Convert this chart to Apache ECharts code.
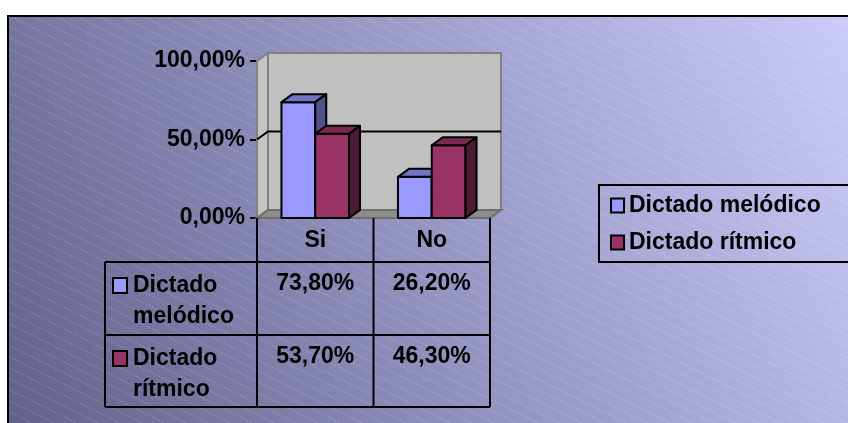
<!DOCTYPE html>
<html><head><meta charset="utf-8">
<script src="https://cdn.jsdelivr.net/npm/echarts@6/dist/echarts.min.js"></script>
<style>html,body{margin:0;padding:0;background:#fff}#c{width:848px;height:423px}</style>
</head><body><div id="c"></div>
<script>
const categories = ['Si', 'No'];
const seriesNames = ['Dictado melódico', 'Dictado rítmico'];
const melodico = [0.738, 0.262];
const ritmico = [0.537, 0.463];
const yTicks = [0, 0.5, 1];
const rowLabels = [['Dictado', 'melódico'], ['Dictado', 'rítmico']];

const FONT = "'Liberation Sans', Arial, sans-serif";
const FS = 23;
const fmt = v => (v * 100).toFixed(2).replace('.', ',') + '%';
const DX = 11, DY = -8;
const G = {left: 257, top: 61, right: 490, bottom: 218};
const COLORS = [
  {front: '#9999ff', top: '#7373c4', side: '#50508a'},
  {front: '#993366', top: '#7a2950', side: '#4d1a33'}
];

const chart = echarts.init(document.getElementById('c'), null, {renderer: 'canvas'});

// hatch pattern
const pc = document.createElement('canvas');
pc.width = 22; pc.height = 11;
const pctx = pc.getContext('2d');
pctx.strokeStyle = 'rgba(255,255,255,0.24)';
pctx.lineWidth = 1;
pctx.setLineDash([2, 1.5]);
for (const off of [-11, 0, 11]) {
  pctx.beginPath(); pctx.moveTo(-2, off - 1); pctx.lineTo(24, off + 12); pctx.stroke();
}

function barRenderer(si) {
  return function (params, api) {
    const cat = api.value(0), val = api.value(1);
    const base = api.coord([cat, 0]);
    const top = api.coord([cat, val]);
    const band = api.size([1, 0])[0];
    const w = band * 0.29;
    const xL = base[0] + (si === 0 ? -w : 0);
    const xR = xL + w;
    const yB = base[1], yT = top[1];
    const c = COLORS[si];
    const st = (f) => ({fill: f, stroke: '#000', lineWidth: 2, lineJoin: 'round'});
    return {type: 'group', children: [
      {type: 'polygon', shape: {points: [[xL, yB], [xR, yB], [xR, yT], [xL, yT]]}, style: st(c.front)},
      {type: 'polygon', shape: {points: [[xL, yT], [xR, yT], [xR + DX, yT + DY], [xL + DX, yT + DY]]}, style: st(c.top)},
      {type: 'polygon', shape: {points: [[xR, yB], [xR + DX, yB + DY], [xR + DX, yT + DY], [xR, yT]]}, style: st(c.side)}
    ]};
  };
}

function wallRenderer(params, api) {
  const cs = params.coordSys;
  const x0 = cs.x, x1 = cs.x + cs.width, y0 = cs.y, y1 = cs.y + cs.height;
  const ch = [];
  ch.push({type: 'polygon', shape: {points: [[x0 + DX, y0 + DY], [x1 + DX, y0 + DY], [x1 + DX, y1 + DY], [x0 + DX, y1 + DY]]},
    style: {fill: '#c0c0c0', stroke: '#808080', lineWidth: 2}});
  ch.push({type: 'polygon', shape: {points: [[x0, y1], [x0, y0], [x0 + DX, y0 + DY], [x0 + DX, y1 + DY]]},
    style: {fill: '#c4c4c4', stroke: '#808080', lineWidth: 2}});
  ch.push({type: 'polygon', shape: {points: [[x0, y1], [x1, y1], [x1 + DX, y1 + DY], [x0 + DX, y1 + DY]]},
    style: {fill: '#8c8c8c', stroke: '#6e6e6e', lineWidth: 2}});
  yTicks.forEach(t => {
    if (t <= 0 || t >= 1) return;
    const y = api.coord([0, t])[1];
    ch.push({type: 'polyline', shape: {points: [[x0, y], [x0 + DX, y + DY], [x1 + DX, y + DY]]},
      style: {stroke: '#000', lineWidth: 2, fill: null}});
  });
  return {type: 'group', children: ch};
}

// table graphics
const colMid = (G.left + G.right) / 2;
const colCenters = [(G.left + colMid) / 2, (colMid + G.right) / 2];
const tLeft = 105;
const rowY = [262, 335, 407];
const gfx = [];
gfx.push({type: 'rect', z: -10, shape: {x: 8, y: 16, width: 860, height: 430},
  style: {fill: {type: 'linear', x: 0, y: 1, x2: 1, y2: 0, colorStops: [{offset: 0, color: '#60608a'}, {offset: 1, color: '#cdcdfd'}]}}});
gfx.push({type: 'rect', z: -9, shape: {x: 8, y: 16, width: 860, height: 430},
  style: {fill: {image: pc, repeat: 'repeat'}, stroke: '#000', lineWidth: 2}});
const L = (x1, y1, x2, y2) => gfx.push({type: 'line', z: 5, shape: {x1, y1, x2, y2}, style: {stroke: '#000', lineWidth: 2}});
[G.left, colMid, G.right].forEach(x => L(x, G.bottom, x, rowY[2]));
L(tLeft, rowY[0], tLeft, rowY[2]);
rowY.forEach(y => L(tLeft, y, G.right, y));
const txt = (text, x, y, align) => gfx.push({type: 'text', z: 6, x, y,
  style: {text, fill: '#000', font: 'bold ' + FS + 'px ' + FONT, textAlign: align, textVerticalAlign: 'middle'}});
const seriesData = [melodico, ritmico];
seriesData.forEach((arr, r) => {
  const yTop = rowY[r];
  arr.forEach((v, c) => txt(fmt(v), colCenters[c], yTop + 22, 'center'));
  gfx.push({type: 'rect', z: 6, shape: {x: 113, y: yTop + 16, width: 14, height: 15},
    style: {fill: COLORS[r].front, stroke: '#000', lineWidth: 2}});
  txt(rowLabels[r][0], 133, yTop + 24, 'left');
  txt(rowLabels[r][1], 133, yTop + 55, 'left');
});

chart.setOption({
  backgroundColor: '#fff',
  animation: false,
  color: [COLORS[0].front, COLORS[1].front],
  grid: {left: G.left, top: G.top, width: G.right - G.left, height: G.bottom - G.top},
  legend: {
    data: seriesNames, orient: 'vertical', left: 599, top: 185, padding: [9, 60, 8, 11],
    itemGap: 14, itemWidth: 13, itemHeight: 14, icon: 'rect', borderColor: '#000', borderWidth: 2,
    itemStyle: {borderColor: '#000', borderWidth: 2},
    textStyle: {fontSize: FS, fontWeight: 'bold', fontFamily: FONT, color: '#000'}
  },
  xAxis: {
    type: 'category', data: categories,
    axisLine: {show: true, lineStyle: {color: '#000', width: 2}},
    axisTick: {show: false},
    axisLabel: {margin: 11, fontSize: FS, fontWeight: 'bold', fontFamily: FONT, color: '#000'}
  },
  yAxis: {
    type: 'value', min: 0, max: 1, interval: 0.5,
    axisLine: {show: true, lineStyle: {color: '#000', width: 2}},
    axisTick: {show: true, length: 7, lineStyle: {color: '#000', width: 2}},
    splitLine: {show: false},
    axisLabel: {margin: 12, fontSize: FS, fontWeight: 'bold', fontFamily: FONT, color: '#000', formatter: fmt}
  },
  graphic: gfx,
  series: [
    {type: 'custom', name: 'walls', silent: true, z: 1, renderItem: wallRenderer, data: [[0, 0]]},
    {type: 'custom', name: seriesNames[0], z: 3, renderItem: barRenderer(0),
      itemStyle: {color: COLORS[0].front, borderColor: '#000', borderWidth: 2},
      data: categories.map((c, i) => [i, melodico[i]])},
    {type: 'custom', name: seriesNames[1], z: 4, renderItem: barRenderer(1),
      itemStyle: {color: COLORS[1].front, borderColor: '#000', borderWidth: 2},
      data: categories.map((c, i) => [i, ritmico[i]])}
  ]
});
</script></body></html>
